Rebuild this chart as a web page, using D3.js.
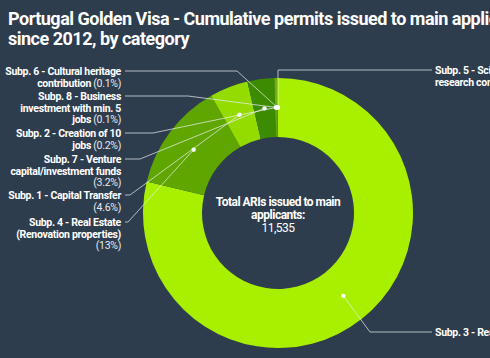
<!DOCTYPE html>
<html><head><meta charset="utf-8">
<script src="https://cdn.jsdelivr.net/npm/d3@7"></script>
<style>
html,body{margin:0;padding:0;background:#2e3d4e;overflow:hidden}
svg{display:block}
</style></head>
<body>
<svg id="chart" width="490" height="358"></svg>
<script>
// ---- data ----
const categories = ["Subp. 3", "Subp. 4", "Subp. 1", "Subp. 7", "Subp. 2", "Subp. 8", "Subp. 6", "Subp. 5"];
const labelLines = [
  ["Subp. 3 - Real Estate"],
  ["Subp. 4 - Real Estate", "(Renovation properties)", ""],
  ["Subp. 1 - Capital Transfer", ""],
  ["Subp. 7 - Venture", "capital/investment funds", ""],
  ["Subp. 2 - Creation of 10", "jobs"],
  ["Subp. 8 - Business", "investment with min. 5", "jobs"],
  ["Subp. 6 - Cultural heritage", "contribution"],
  ["Subp. 5 - Science or technology", "research contribution"]
];
const values = [9084, 1500, 531, 369, 23, 12, 12, 4];
const colors = ["#a9ef00", "#5fa600", "#94db00", "#3c8b00", "#6cb400", "#8ad000", "#4d9a00", "#a0e600"];
const titleLines = ["Portugal Golden Visa - Cumulative permits issued to main applicants", "since 2012, by category"];
const centerLines = ["Total ARIs issued to main", "applicants:"];

// ---- layout ----
const W = 490, H = 358;
const cx = 278, cy = 213, rOuter = 135, rInner = 76, rDot = 105.5;
const labelLayout = [
  {side: "right", y: 332, elbow: 370},
  {side: "left", y: 222, elbow: 128},
  {side: "left", y: 195, elbow: 130},
  {side: "left", y: 159, elbow: 140},
  {side: "left", y: 133, elbow: 153},
  {side: "left", y: 96, elbow: 188},
  {side: "left", y: 71, elbow: 237},
  {side: "right", y: 70, elbow: 278}
];

const svg = d3.select("#chart");
svg.append("rect").attr("width", W).attr("height", H).attr("fill", "#2e3d4e");

// title
svg.append("text").attr("x", 8).attr("y", 25)
  .attr("font-family", "Roboto").attr("font-weight", "bold").attr("font-size", 18)
  .attr("letter-spacing", -0.5)
  .attr("fill", "#ffffff")
  .selectAll("tspan").data(titleLines).join("tspan")
  .attr("x", 8).attr("dy", (d, i) => i === 0 ? 0 : 20).text(d => d);

const total = d3.sum(values);
const data = categories.map((c, i) => ({cat: c, value: values[i], color: colors[i], lines: labelLines[i], layout: labelLayout[i]}));

const pie = d3.pie().sort(null).value(d => d.value);
const arcs = pie(data);
const arc = d3.arc().innerRadius(rInner).outerRadius(rOuter);
const dotArc = d3.arc().innerRadius(rDot).outerRadius(rDot);

const g = svg.append("g").attr("transform", `translate(${cx},${cy})`);
g.selectAll("path.slice").data(arcs).join("path")
  .attr("class", "slice")
  .attr("d", arc)
  .attr("fill", d => d.data.color);

const fmtPct = v => {
  const p = v / total * 100;
  return (p >= 10 ? Math.round(p) : p.toFixed(1)) + "%";
};

const lineH = 11.5;
arcs.forEach(a => {
  const [dx, dy] = dotArc.centroid(a);
  const px = cx + dx, py = cy + dy;
  const L = a.data.layout;
  const startX = L.side === "left" ? 125 : 432;
  svg.append("path")
    .attr("d", `M${startX},${L.y}H${L.elbow}L${px},${py}`)
    .attr("fill", "none")
    .attr("stroke", "rgba(235,240,245,0.7)")
    .attr("stroke-width", 1);
  svg.append("circle").attr("cx", px).attr("cy", py).attr("r", 2.2).attr("fill", "#ffffff");

  const t = svg.append("text")
    .attr("font-family", "Roboto").attr("font-size", 10.5)
    .attr("letter-spacing", -0.3)
    .attr("fill", "#ffffff")
    .attr("text-anchor", L.side === "left" ? "end" : "start");
  const x = L.side === "left" ? 121 : 435;
  const lines = a.data.lines;
  lines.forEach((ln, i) => {
    const last = i === lines.length - 1;
    const tl = t.append("tspan").attr("x", x).attr("y", L.y + 4 + i * lineH);
    if (ln) tl.append("tspan").attr("font-weight", "bold").text(ln);
    if (last) tl.append("tspan").attr("font-weight", "normal").attr("fill", "#e6e9ec")
      .text((ln ? " " : "") + "(" + fmtPct(a.data.value) + ")");
  });
});

// centre text
const ct = svg.append("text").attr("text-anchor", "middle")
  .attr("font-family", "Roboto").attr("font-size", 12).attr("letter-spacing", -0.5)
  .attr("fill", "#ffffff");
centerLines.forEach((ln, i) => {
  ct.append("tspan").attr("x", cx).attr("y", 206 + i * 13).attr("font-weight", "bold").text(ln);
});
ct.append("tspan").attr("x", cx).attr("y", 206 + 2 * 13).attr("font-weight", "normal")
  .text(d3.format(",")(total));
</script>
</body></html>
